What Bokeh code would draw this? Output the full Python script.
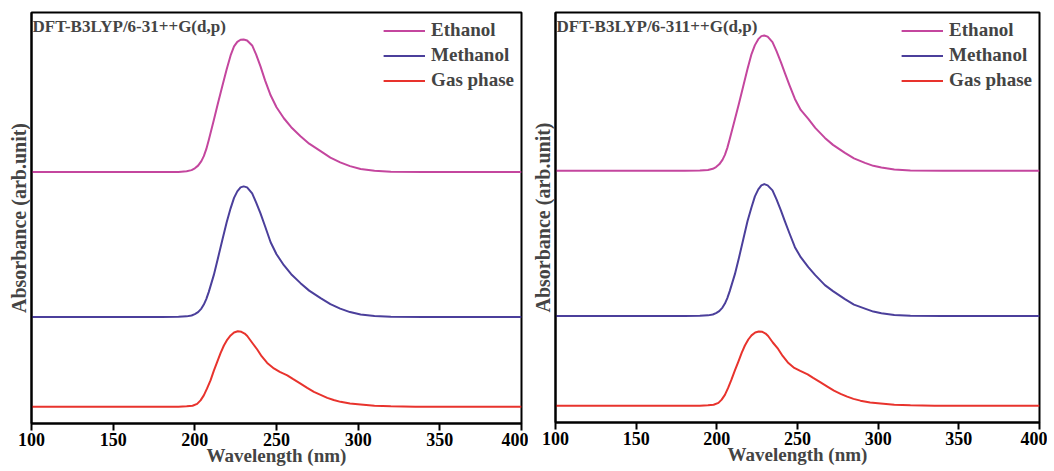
from bokeh.plotting import figure
from bokeh.layouts import row
from bokeh.models import Legend, LegendItem, Label, FixedTicker, Range1d
from bokeh.embed import file_html
from bokeh.resources import INLINE

# ---------------- data (arbitrary absorbance units) ----------------
series_names = ["Ethanol", "Methanol", "Gas phase"]
x_ticks = [100, 150, 200, 250, 300, 350, 400]

# Left panel: DFT-B3LYP/6-31++G(d,p)
L_eth_wl = [100, 150, 180, 190, 195, 198, 200, 202, 204, 205.5, 207, 208.5, 211.6, 214, 216.8, 219.5, 221.9,
            224, 226, 228, 229.9, 232, 235.1, 237.5, 240.2, 243, 246.4, 250, 254.5, 259, 264.7, 270, 277,
            283, 289, 295, 301.5, 310, 320, 340, 370, 400]
L_eth_abs = [0, 0, 0, 0.2, 0.8, 2, 3.8, 6.5, 11, 16, 23, 32, 52, 68, 86, 103, 117, 126, 130.5, 132.7, 133,
             132, 127, 118, 106, 92, 77, 65, 54, 45, 36, 28.5, 21, 14.5, 9.7, 6, 3.2, 1.3, 0.4, 0.1, 0, 0]
L_met_wl = L_eth_wl
L_met_abs = [0, 0, 0, 0.2, 0.7, 1.6, 3, 5, 8.5, 12.5, 18, 25, 42, 58, 77, 95, 109, 119.5, 126, 130, 131,
             130, 124, 115, 104, 91, 75, 63, 52, 43, 34, 26.5, 19, 13, 8.5, 5, 2.5, 1, 0.3, 0.1, 0, 0]
L_gas_wl = [100, 150, 180, 190, 195, 198.6, 201.4, 203.5, 205.5, 207.5, 209.6, 211.6, 213.7, 215.8, 217.8,
            219.9, 221.9, 224, 226.3, 228.5, 230.5, 232.1, 235, 238.2, 241, 244.3, 248.4, 252, 256.6, 260,
            264.7, 268.8, 272.9, 277, 281.1, 285, 289.2, 295, 301.5, 310, 320, 335, 360, 400]
L_gas_abs = [0, 0, 0, 0.2, 0.5, 1.1, 3, 6.5, 11.5, 18.5, 26.5, 36, 45, 54, 61.5, 67.5, 71.6, 74.5, 75.7,
             75.2, 73.5, 71, 64.5, 57.5, 50.5, 44, 38.5, 35, 31.6, 28, 23.3, 19, 15, 12, 9, 6.8, 5, 3.3, 2.3,
             1.2, 0.5, 0.1, 0, 0]
L_offsets = [252, 106.7, 16.7]

# Right panel: DFT-B3LYP/6-311++G(d,p)
R_eth_wl = [100, 150, 180, 189.5, 194.5, 197.5, 199.5, 201.5, 203.5, 205, 206.5, 208, 211.2, 213.8, 216.4,
            219, 221.5, 223.6, 225.7, 227.6, 229.4, 231.5, 234.5, 237, 239.7, 242.2, 245, 248.4, 252, 256.7,
            261, 267, 272, 279.4, 285, 291.8, 297, 302, 310, 320, 340, 370, 400]
R_eth_abs = [0, 0, 0, 0.2, 0.8, 2, 3.8, 6.5, 11, 16, 23, 32, 51.7, 68, 85, 102, 117, 126, 132, 135, 135.7,
             134.5, 129, 120, 109, 98, 86, 72, 61, 52, 43, 33, 26, 18, 12.5, 8, 5, 3.3, 1.3, 0.4, 0.1, 0, 0]
R_met_wl = R_eth_wl
R_met_abs = [0, 0, 0, 0.2, 0.7, 1.6, 3, 5, 8.5, 12.5, 18, 25, 42, 59, 77, 95, 109, 120, 127, 131, 132.3,
             131, 126, 117, 106, 95, 83, 69, 59, 49, 41, 31, 25, 17, 11.5, 7.5, 4.5, 2.8, 1, 0.3, 0.1, 0, 0]
R_gas_wl = [100, 150, 180, 189.5, 194.5, 198, 201, 203, 205, 207, 209, 211.2, 213.3, 215.4, 217.4, 219.5,
            221.5, 223.8, 226, 228.2, 230.2, 231.8, 234.7, 238, 240.8, 244, 248, 251.7, 256.3, 259.7, 264.3,
            268.5, 272.6, 276.7, 280.8, 284.7, 289, 295, 301.5, 310, 320, 335, 360, 400]
R_gas_abs = [0, 0, 0, 0.2, 0.5, 1.1, 3, 6.2, 11, 18, 26, 35.5, 44, 53, 60.5, 66.5, 70.6, 73.5, 74.6, 74.2,
             72.5, 70, 63.5, 57, 50, 43.5, 38, 35, 31.5, 28, 23.5, 19.2, 15.2, 12, 9.2, 7, 5.2, 3.4, 2.4, 1.2,
             0.5, 0.1, 0, 0]
R_offsets = [252.3, 106.7, 16.7]

colors = ["#C4469E", "#4B3F9B", "#E8332D"]
FONT = "Liberation Serif"


def make_fig(title, wls, abss, offsets, fw, fh, ytop, border_left, border_right):
    p = figure(frame_width=fw, frame_height=fh, x_range=Range1d(100, 400), y_range=Range1d(0, ytop),
               output_backend="svg", toolbar_location=None,
               min_border_left=border_left, min_border_right=border_right,
               min_border_top=12, min_border_bottom=0)
    p.xgrid.visible = False
    p.ygrid.visible = False
    p.outline_line_color = "black"
    p.outline_line_width = 2
    p.background_fill_color = "white"
    p.border_fill_color = "white"

    xa = p.xaxis[0]
    xa.ticker = FixedTicker(ticks=x_ticks)
    xa.minor_tick_line_color = None
    xa.major_tick_in = 0
    xa.major_tick_out = 7
    xa.major_tick_line_width = 2
    xa.axis_line_width = 2
    xa.major_label_text_font = FONT
    xa.major_label_text_font_style = "bold"
    xa.major_label_text_font_size = "18px"
    xa.major_label_text_color = "black"
    xa.major_label_standoff = 2
    xa.axis_label = "Wavelength (nm)"
    xa.axis_label_text_font = FONT
    xa.axis_label_text_font_style = "bold"
    xa.axis_label_text_font_size = "19px"
    xa.axis_label_standoff = -4

    ya = p.yaxis[0]
    ya.ticker = FixedTicker(ticks=[])
    ya.minor_tick_line_color = None
    ya.major_tick_in = 0
    ya.major_tick_out = 0
    ya.major_label_standoff = 0
    ya.axis_line_width = 2
    ya.axis_label = "Absorbance (arb.unit)"
    ya.axis_label_text_font = FONT
    ya.axis_label_text_font_style = "bold"
    ya.axis_label_text_font_size = "20px"
    ya.axis_label_standoff = 2

    items = []
    for name, wl, ab, off, c in zip(series_names, wls, abss, offsets, colors):
        ys = [off + a for a in ab]
        r = p.line(wl, ys, line_color=c, line_width=2, line_join="round")
        items.append(LegendItem(label=name, renderers=[r]))

    leg = Legend(items=items, location="top_right", margin=7, padding=4, spacing=3,
                 glyph_width=42, glyph_height=21, label_height=21, label_standoff=6,
                 border_line_color=None, background_fill_alpha=0,
                 label_text_font=FONT, label_text_font_style="bold", label_text_font_size="19px")
    p.add_layout(leg)

    p.add_layout(Label(x=1, y=fh - 4, x_units="screen", y_units="screen", text=title,
                       text_font=FONT, text_font_style="bold", text_font_size="17px",
                       text_baseline="top", text_align="left"))
    return p


p1 = make_fig("DFT-B3LYP/6-31++G(d,p)", [L_eth_wl, L_met_wl, L_gas_wl],
              [L_eth_abs, L_met_abs, L_gas_abs], L_offsets, 490, 411, 412, 31, 7)
p2 = make_fig("DFT-B3LYP/6-311++G(d,p)", [R_eth_wl, R_met_wl, R_gas_wl],
              [R_eth_abs, R_met_abs, R_gas_abs], R_offsets, 484, 410, 411, 23, 8)

layout = row(p1, p2)
open("out.html", "w").write(file_html(layout, INLINE))
